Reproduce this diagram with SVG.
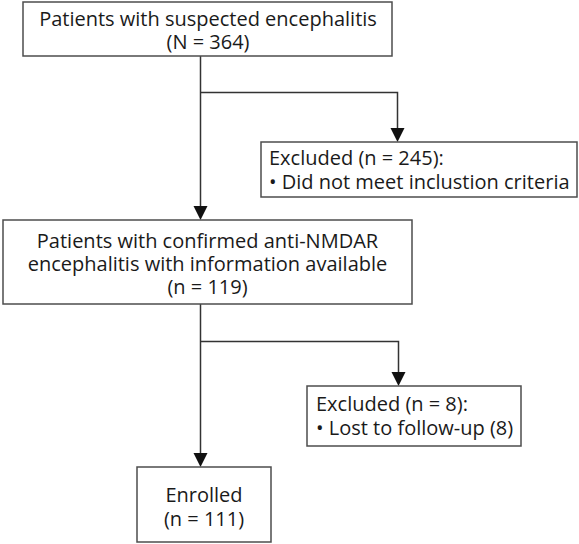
<svg xmlns="http://www.w3.org/2000/svg" width="579" height="544" viewBox="0 0 579 544">
<defs>
<style>
.box{fill:#fff;stroke:#4d4d4d;stroke-width:1.5}
.t{font-family:"Open Sans","Noto Sans",sans-serif;font-size:20px;fill:#1a1a1a}
.c{text-anchor:middle}
.ln{fill:none;stroke:#333;stroke-width:1.5}
.ah{fill:#111}
</style>
</defs>
<rect width="579" height="544" fill="#fff"/>
<g id="connectors">
<path class="ln" d="M200.5,56 V208"/>
<path class="ln" d="M200.5,92.5 H397.5 V130"/>
<path class="ln" d="M200.5,304 V455"/>
<path class="ln" d="M200.5,341.5 H398.5 V374"/>
<path class="ah" d="M193.5,206 L207.5,206 L200.5,220 Z"/>
<path class="ah" d="M390.5,128 L404.5,128 L397.5,142 Z"/>
<path class="ah" d="M391.5,372 L405.5,372 L398.5,386 Z"/>
<path class="ah" d="M193.5,453 L207.5,453 L200.5,467 Z"/>
</g>
<g id="n1">
<rect class="box" x="23" y="2" width="369" height="54"/>
<text class="t c" x="208" y="26">Patients with suspected encephalitis</text>
<text class="t c" x="208" y="49">(N = 364)</text>
</g>
<g id="n2">
<rect class="box" x="261" y="142" width="316" height="55"/>
<text class="t" x="269" y="165">Excluded (n = 245):</text>
<text class="t" x="269" y="189">• Did not meet inclustion criteria</text>
</g>
<g id="n3">
<rect class="box" x="3" y="220" width="409" height="84"/>
<text class="t c" x="207.5" y="248">Patients with confirmed anti-NMDAR</text>
<text class="t c" x="207.5" y="271">encephalitis with information available</text>
<text class="t c" x="207.5" y="294">(n = 119)</text>
</g>
<g id="n4">
<rect class="box" x="307" y="386" width="214" height="60"/>
<text class="t" x="316" y="411">Excluded (n = 8):</text>
<text class="t" x="316" y="435">• Lost to follow-up (8)</text>
</g>
<g id="n5">
<rect class="box" x="137" y="467" width="134" height="75"/>
<text class="t c" x="204" y="502">Enrolled</text>
<text class="t c" x="204" y="526">(n = 111)</text>
</g>
</svg>
